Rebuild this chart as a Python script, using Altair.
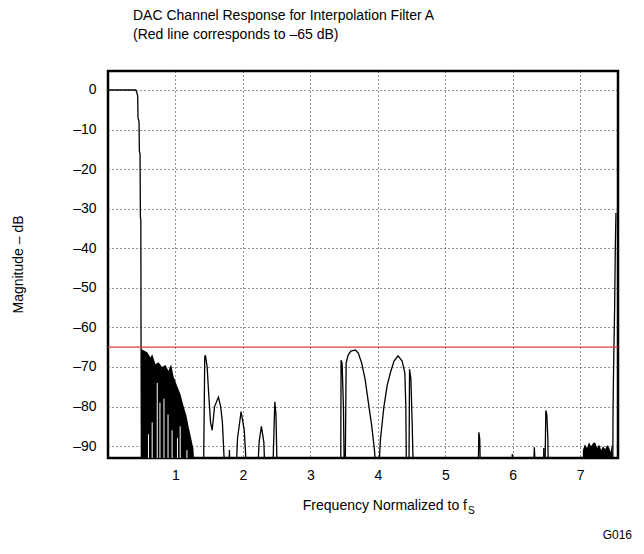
import altair as alt
import pandas as pd

# ---- data ----
curve_x = [0.0, 0.2, 0.41, 0.425, 0.44, 0.445, 0.46, 0.465, 0.475, 0.48, 0.487, 0.49, 0.496,
           1.30, 1.415, 1.434, 1.444, 1.47, 1.49, 1.52, 1.544, 1.58, 1.637, 1.67, 1.696, 1.74,
           1.79, 1.80, 1.81,
           1.89, 1.92, 1.973, 2.02, 2.067,
           2.21, 2.24, 2.274, 2.31, 2.333,
           2.437, 2.473, 2.49, 2.511,
           3.449, 3.455, 3.47, 3.49, 3.505, 3.515, 3.53, 3.56, 3.6, 3.667, 3.71, 3.76, 3.81, 3.86, 3.91, 3.95, 3.985,
           4.0, 4.04, 4.09, 4.14, 4.19, 4.24, 4.3, 4.36, 4.4, 4.415, 4.425, 4.46, 4.47, 4.49, 4.51, 4.53,
           5.485, 5.497, 5.51, 5.525,
           5.985, 5.993, 6.0,
           6.3, 6.32, 6.345,
           6.455, 6.46, 6.465, 6.475, 6.49, 6.505, 6.52, 6.53,
           7.02, 7.482, 7.486, 7.49, 7.50, 7.51, 7.52, 7.53]
curve_y = [0.0, 0.0, 0.0, -0.5, -1.5, -7, -8, -15.5, -16, -32, -33, -65.5, -100,
           -100, -100, -67.5, -67, -70, -76, -84, -86, -80, -77.6, -80, -84, -100,
           -100, -91, -100,
           -100, -88, -81.3, -86, -100,
           -100, -89, -85, -89, -100,
           -100, -78.8, -82, -100,
           -100, -68.3, -69, -80, -100, -100, -69, -67, -66, -65.7, -66.5, -69, -73, -79, -85, -91, -100,
           -100, -88, -80, -74.5, -71.2, -68.5, -67.2, -68.5, -71.5, -80, -100, -100, -70.6, -73, -85, -100,
           -100, -86.5, -88, -100,
           -100, -92, -100,
           -100, -90.3, -100,
           -100, -90.5, -100, -100, -81, -82, -88, -100,
           -100, -100, -82, -76, -65, -55, -40, -31]

dense_x = [0.49, 0.496, 0.581, 0.630, 0.655, 0.704, 0.748, 0.803, 0.852, 0.896, 0.936, 0.970,
           1.025, 1.074, 1.119, 1.163, 1.193, 1.233, 1.267, 1.296]
dense_top = [-65.5, -65.5, -66.3, -67.6, -66.8, -69.3, -68.8, -70, -69.5, -71, -69.3, -72.3,
             -74.8, -76.9, -79.8, -82.3, -84.9, -88, -90.7, -100]

# white gaps between the dense oscillations (x, top of the gap)
gap_x = [0.60, 0.655, 0.73, 0.77, 0.83, 0.89, 0.95, 1.03, 1.07, 1.17]
gap_top = [-87, -84, -74, -79, -78, -82, -86, -88, -85, -91]

noise_x = [7.03, 7.04, 7.07, 7.1, 7.13, 7.16, 7.19, 7.22, 7.25, 7.28, 7.31, 7.34, 7.37, 7.4,
           7.43, 7.45, 7.47, 7.48, 7.485]
noise_top = [-100, -91, -89.5, -90.5, -89, -90, -89.3, -89, -90.5, -89.6, -91, -90, -90.8,
             -89.7, -90.5, -91.5, -89.5, -92, -100]

x_ticks = [1, 2, 3, 4, 5, 6, 7]
y_ticks = [0, -10, -20, -30, -40, -50, -60, -70, -80, -90]
limit_db = [-65]
floor_db = -100

title_line1 = "DAC Channel Response for Interpolation Filter A"
title_line2 = "(Red line corresponds to \u201365 dB)"
x_title = "Frequency Normalized to f"
x_title_sub = "S"
y_title = "Magnitude \u2013 dB"
figure_id = "G016"

FONT = "Liberation Sans"
W, H = 510, 387

x_scale = alt.Scale(domain=[0, 7.56], nice=False, zero=False)
y_scale = alt.Scale(domain=[-93, 4.8], nice=False, zero=False)

x_axis = alt.Axis(values=x_ticks, grid=True, ticks=False, domain=False, title=None,
                  labelFont=FONT, labelFontSize=14, labelColor="black", labelPadding=10,
                  gridColor="#222222", gridDash=[1, 3], gridWidth=1)
y_axis = alt.Axis(values=y_ticks, grid=True, ticks=False, domain=False, title=None,
                  labelFont=FONT, labelFontSize=14, labelColor="black", labelPadding=12,
                  gridColor="#222222", gridDash=[1, 3], gridWidth=1,
                  labelExpr="datum.value < 0 ? '\u2013' + abs(datum.value) : datum.label")

curve_df = pd.DataFrame({"f": curve_x, "db": curve_y})
dense_df = pd.DataFrame({"f": dense_x, "db": dense_top, "floor": floor_db})
gap_df = pd.DataFrame({"f": gap_x, "db": gap_top, "floor": floor_db})
noise_df = pd.DataFrame({"f": noise_x, "db": noise_top, "floor": floor_db})
limit_df = pd.DataFrame({"db": limit_db})

X = alt.X("f:Q", scale=x_scale, axis=x_axis)
Y = alt.Y("db:Q", scale=y_scale, axis=y_axis)

dense = alt.Chart(dense_df).mark_area(color="black", clip=True).encode(
    x=X, y=Y, y2="floor:Q")
gaps = alt.Chart(gap_df).mark_rule(color="white", strokeWidth=1, clip=True).encode(
    x=X, y=Y, y2="floor:Q")
noise = alt.Chart(noise_df).mark_area(color="black", clip=True).encode(
    x=X, y=Y, y2="floor:Q")
curve = alt.Chart(curve_df).mark_line(color="black", strokeWidth=1.3, clip=True).encode(x=X, y=Y)
limit = alt.Chart(limit_df).mark_rule(color="#e03c3c", strokeWidth=1.2).encode(y=Y)


def label(txt, x, y, size=14, align="left", angle=0, baseline="alphabetic"):
    return alt.Chart(pd.DataFrame({"t": [txt]})).mark_text(
        font=FONT, fontSize=size, color="black", align=align, baseline=baseline, angle=angle
    ).encode(x=alt.value(x), y=alt.value(y), text="t:N")


texts = [
    label(title_line1, 25, -51),
    label(title_line2, 25, -32),
    label(x_title, 359, 439, align="right"),
    label(x_title_sub, 360, 443, size=10),
    label(y_title, -89, H / 2, align="center", angle=270, baseline="middle"),
    label(figure_id, 524, 468, size=12, align="right"),
]

chart = alt.layer(dense, gaps, noise, curve, limit, *texts).properties(
    width=W, height=H,
    autosize=alt.AutoSizeParams(type="none"),
    padding={"left": 100, "top": 63, "right": 18, "bottom": 88},
).configure_view(stroke="black", strokeWidth=2.5)

chart.save("out.html", embed_options={"renderer": "svg", "actions": False})
